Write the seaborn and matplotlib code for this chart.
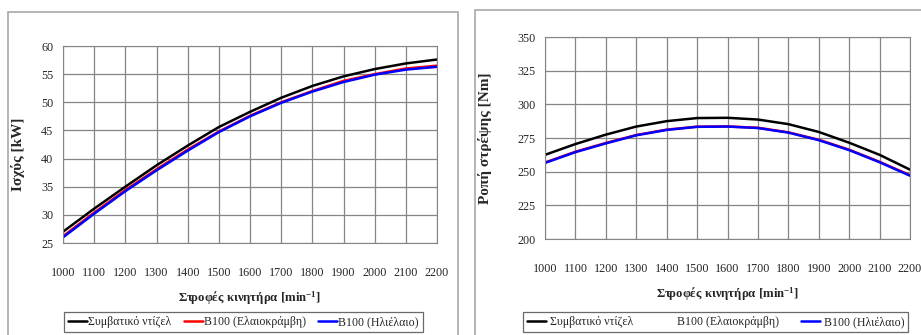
import pandas as pd
import matplotlib.pyplot as plt
import seaborn as sns
from matplotlib.patches import Rectangle

rpm = [1000, 1100, 1200, 1300, 1400, 1500, 1600, 1700, 1800, 1900, 2000, 2100, 2200]

fuels = ['Συμβατικό ντίζελ', 'B100 (Ελαιοκράμβη)', 'B100 (Ηλιέλαιο)']

power_diesel = [27.0, 31.1, 35.0, 38.8, 42.3, 45.6, 48.3, 50.8, 52.9, 54.6, 55.9, 56.9, 57.6]
power_rape = [26.2, 30.4, 34.4, 38.1, 41.6, 44.8, 47.6, 50.0, 52.0, 53.8, 55.0, 56.0, 56.5]
power_sun = [26.0, 30.2, 34.2, 37.9, 41.4, 44.7, 47.5, 49.9, 51.9, 53.6, 54.9, 55.8, 56.3]

torque_diesel = [262.5, 270.5, 277.5, 283.5, 287.5, 289.8, 290.0, 288.7, 285.3, 279.5, 271.5, 262.5, 251.5]
torque_rape = [256.8, 264.8, 271.3, 277.2, 281.2, 283.4, 283.6, 282.6, 279.2, 273.7, 266.3, 257.3, 247.4]
torque_sun = [256.5, 264.5, 271.0, 277.0, 281.0, 283.3, 283.5, 282.4, 279.0, 273.4, 266.0, 257.0, 247.0]

colors = ['black', '#ff0000', '#0000ff']

power = pd.DataFrame({'rpm': rpm * 3,
                      'fuel': [f for f in fuels for _ in rpm],
                      'value': power_diesel + power_rape + power_sun})
torque = pd.DataFrame({'rpm': rpm * 3,
                       'fuel': [f for f in fuels for _ in rpm],
                       'value': torque_diesel + torque_rape + torque_sun})

sns.set_style('white')
plt.rcParams['font.family'] = ['Liberation Serif', 'DejaVu Serif']
plt.rcParams['mathtext.fontset'] = 'custom'
plt.rcParams['mathtext.rm'] = 'Liberation Serif'
plt.rcParams['mathtext.bf'] = 'Liberation Serif:bold'

W, H = 921, 335
fig = plt.figure(figsize=(W / 100, H / 100), dpi=100)

# outer chart frames
fig.patches.append(Rectangle((8 / W, -0.1), 450 / W, 1.1 - 12 / H, transform=fig.transFigure,
                             fill=False, edgecolor='#a8a8a8', lw=1.2))
fig.patches.append(Rectangle((475 / W, -0.1), 0.5, 1.1 - 10 / H, transform=fig.transFigure,
                             fill=False, edgecolor='#a8a8a8', lw=1.2))

ax1 = fig.add_axes([63 / W, 1 - 243 / H, 374 / W, 197 / H])
ax2 = fig.add_axes([545 / W, 1 - 239 / H, 365 / W, 202 / H])

specs = [
    (ax1, power, (25, 60), range(25, 61, 5), 'Ισχύς [kW]', (-0.102, 0.45),
     dict(x=64, handletextpad=0.1, columnspacing=1.0)),
    (ax2, torque, (200, 350), range(200, 351, 25), 'Ροπή στρέψης [Nm]', (-0.145, 0.5),
     dict(x=523, handletextpad=0.3, columnspacing=1.8)),
]

for ax, df, ylim, yticks, ylabel, ylab_pos, lg in specs:
    sns.lineplot(data=df, x='rpm', y='value', hue='fuel', palette=colors, ax=ax,
                 linewidth=1.8, legend=False)
    ax.set_xlim(1000, 2200)
    ax.set_ylim(*ylim)
    ax.set_xticks(rpm)
    ax.set_yticks(list(yticks))
    ax.grid(True, color='#858585', lw=0.9)
    for s in ax.spines.values():
        s.set_color('#858585')
    ax.tick_params(axis='both', labelsize=8.7, length=3, color='#858585', direction='out')
    ax.tick_params(axis='x', pad=14)
    ax.tick_params(axis='y', pad=4)
    ax.set_xlabel('Στροφές κινητήρα [min$\\mathbf{^{-1}}$]', fontsize=9.2, fontweight='bold', labelpad=8)
    ax.set_ylabel(ylabel, fontsize=11, fontweight='bold')
    ax.yaxis.set_label_coords(*ylab_pos)
    handles = [plt.Line2D([], [], color=c, lw=1.8) for c in colors]
    if ax is ax2:
        handles[1].set_color('white')
    leg = fig.legend(handles, fuels, loc='center left', ncol=3, fontsize=8.6,
                     bbox_to_anchor=(lg['x'] / W, 1 - 322 / H), frameon=True, fancybox=False,
                     handlelength=1.6, handletextpad=lg['handletextpad'],
                     columnspacing=lg['columnspacing'], borderpad=0.35, borderaxespad=0)
    leg.get_frame().set_edgecolor('#444444')
    leg.get_frame().set_linewidth(0.9)

fig.savefig('out.png', dpi=100)
